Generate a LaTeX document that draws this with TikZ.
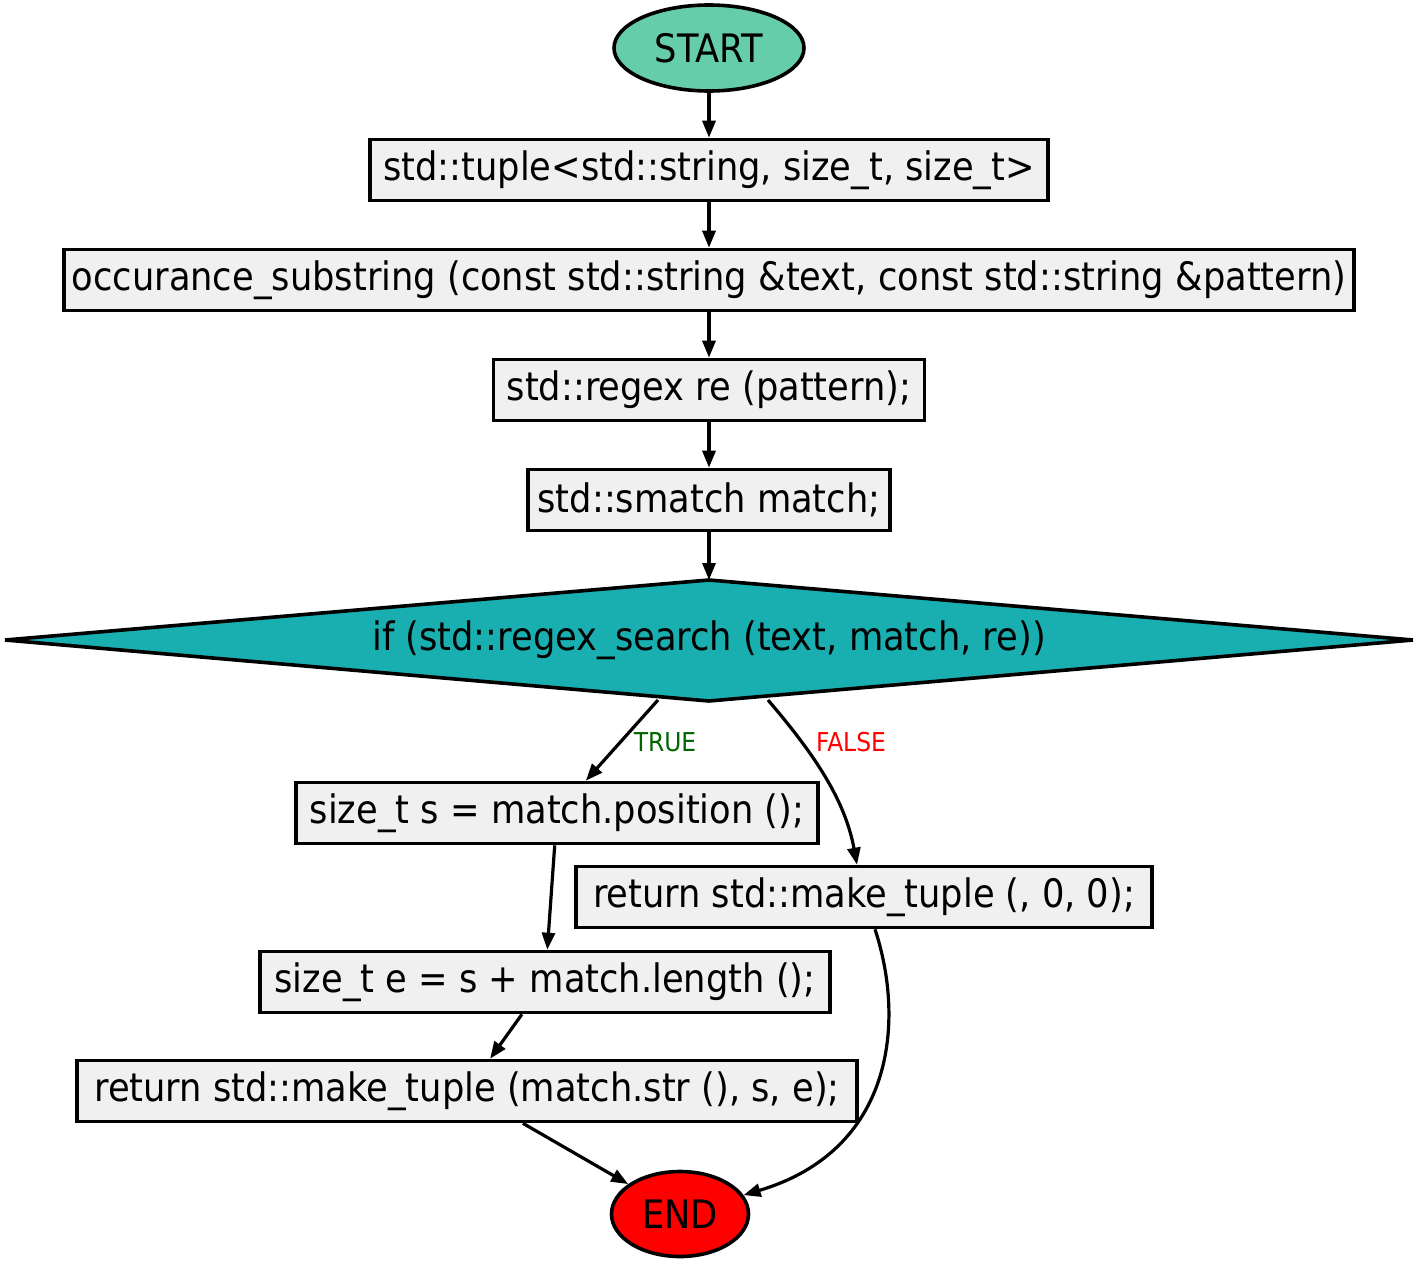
\documentclass[tikz,border=0pt]{standalone}
\usepackage{fontspec}
\setmainfont{DejaVu Sans Condensed}
\usetikzlibrary{shapes.geometric,arrows.meta}
\definecolor{startfill}{HTML}{66CDAA}
\definecolor{condfill}{HTML}{19AFB0}
\definecolor{boxfill}{HTML}{F0F0F0}
\definecolor{truegreen}{HTML}{006400}
\tikzset{
  stepbox/.style={draw, line width=3.6pt, fill=boxfill, rectangle, inner sep=0pt,
    minimum height=61pt, font=\fontsize{39.2}{44}\selectfont},
  terminal/.style={draw, line width=3.6pt, ellipse, inner sep=0pt,
    font=\fontsize{39.2}{44}\selectfont},
  flow/.style={line width=3.2pt, -{Triangle[length=17pt,width=13pt]}},
  edgelabel/.style={font=\fontsize{26}{30}\selectfont, inner sep=0pt}
}
\begin{document}
\begin{tikzpicture}[x=1pt, y=-1pt]
\useasboundingbox (0,0) rectangle (1419,1263);

% start and the function header
\node[terminal, fill=startfill, minimum width=190pt, minimum height=86pt] (start) at (709,48) {START};
\node[stepbox, minimum width=678pt] (sig) at (709,170) {std::tuple<std::string, size\_t, size\_t>};
\node[stepbox, minimum width=1290pt] (fn) at (709,280) {occurance\_substring (const std::string \&text, const std::string \&pattern)};
\node[stepbox, minimum width=431pt] (re) at (709,390) {std::regex re (pattern);};
\node[stepbox, minimum width=362pt] (sm) at (709,500) {std::smatch match;};

% decision
\draw[line width=3.6pt, fill=condfill, line join=miter] (5,640) -- (709,580) -- (1413,640) -- (709,701) -- cycle;
\node[inner sep=0pt, minimum width=1408pt, minimum height=121pt, font=\fontsize{39.2}{44}\selectfont] (cond) at (709,640) {if (std::regex\_search (text, match, re))};
\coordinate (ctrue) at (658,700);
\coordinate (cfalse) at (768,700);

% branches
\node[stepbox, minimum width=522pt] (pos) at (557,813) {size\_t s = match.position ();};
\node[stepbox, minimum width=576pt] (nomatch) at (864,897) {return std::make\_tuple (, 0, 0);};
\node[stepbox, minimum width=570pt] (len) at (545,982) {size\_t e = s + match.length ();};
\node[stepbox, minimum width=780pt] (ret) at (467,1091) {return std::make\_tuple (match.str (), s, e);};
\node[terminal, fill=red, minimum width=137pt, minimum height=85pt] (stop) at (680,1214) {END};

% connectors
\draw[flow] (start) -- (sig);
\draw[flow] (sig) -- (fn);
\draw[flow] (fn) -- (re);
\draw[flow] (re) -- (sm);
\draw[flow] (sm) -- (709,580);
\draw[flow] (ctrue) -- (pos);
\draw[flow] (cfalse) .. controls (815,755) and (845,800) .. ([xshift=-7pt]nomatch.north);
\draw[flow] (pos) -- (len);
\draw[flow] (len) -- (ret);
\draw[flow] (ret) -- (stop);
\draw[flow] ([xshift=11pt]nomatch.south) .. controls (905,1020) and (895,1150) .. (stop);

% branch labels
\node[edgelabel, text=truegreen] (ltrue) at (665,742) {TRUE};
\node[edgelabel, text=red] (lfalse) at (851,742) {FALSE};
\end{tikzpicture}
\end{document}
